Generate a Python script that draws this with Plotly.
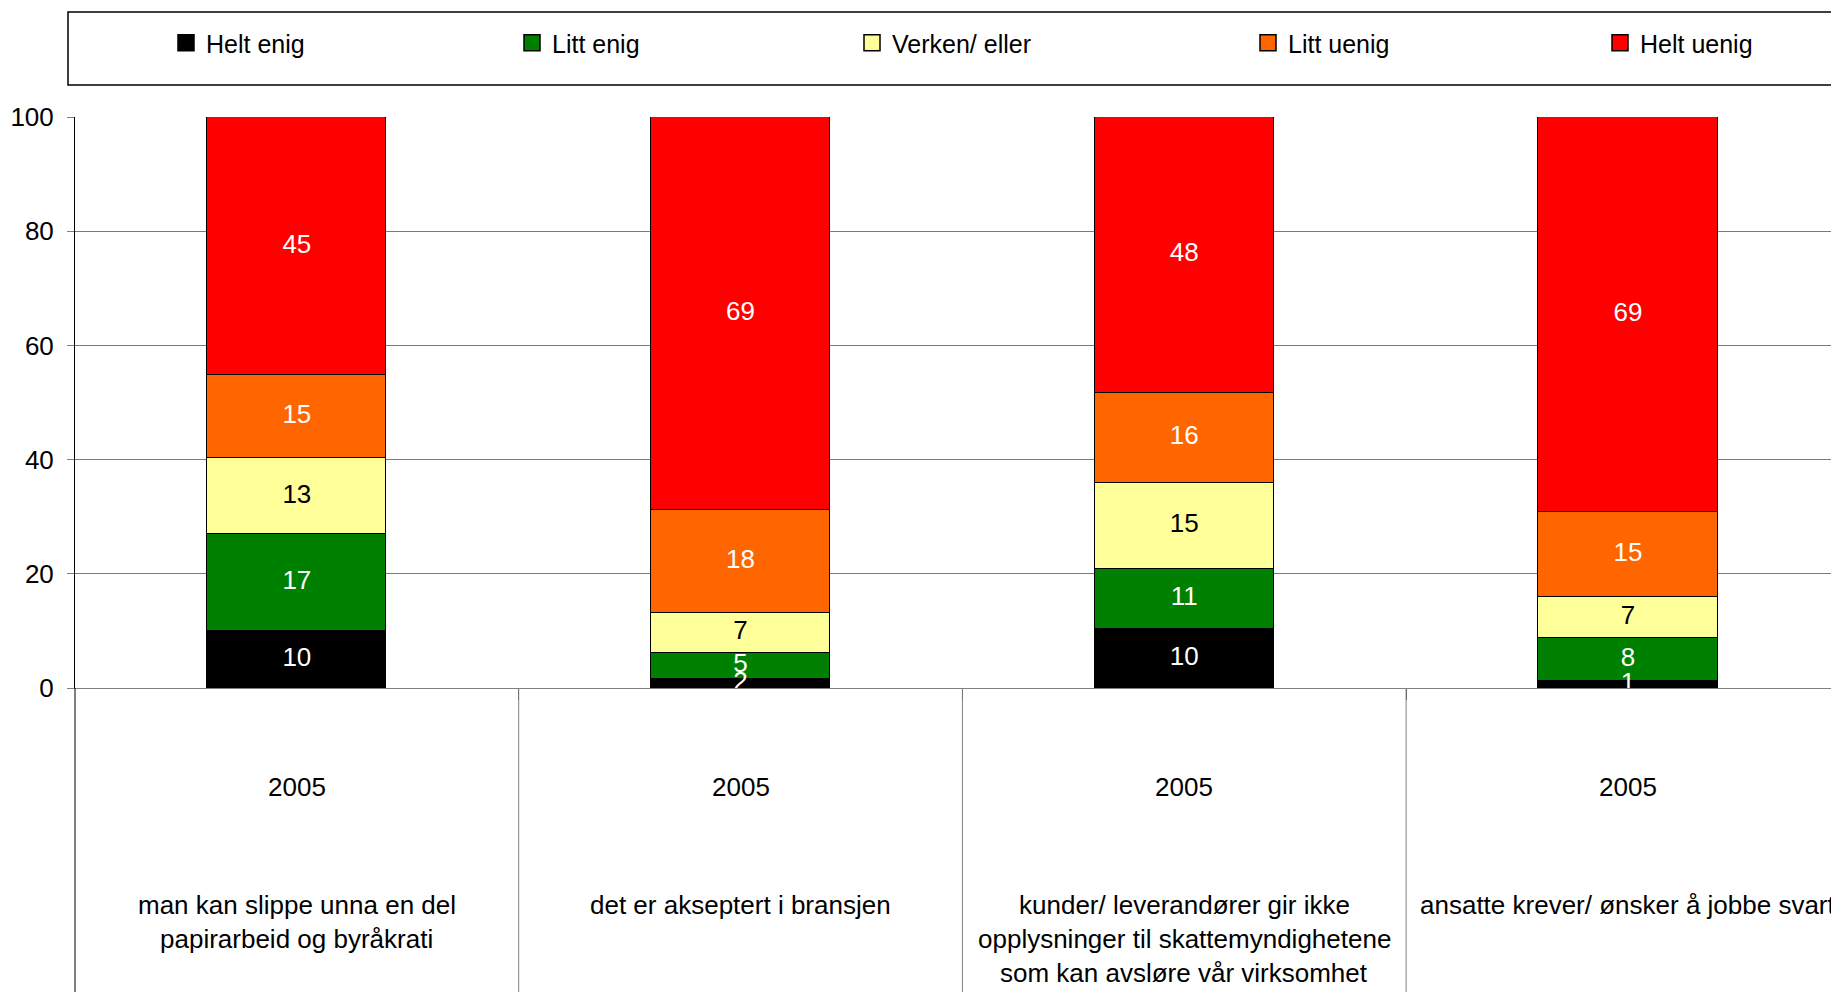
import plotly.graph_objects as go

# ---------------- data ----------------
categories = [
    "man kan slippe unna en del papirarbeid og byråkrati",
    "det er akseptert i bransjen",
    "kunder/ leverandører gir ikke opplysninger til skattemyndighetene som kan avsløre vår virksomhet",
    "ansatte krever/ ønsker å jobbe svart",
]
category_lines = [
    ["man kan slippe unna en del", "papirarbeid og byråkrati"],
    ["det er akseptert i bransjen"],
    ["kunder/ leverandører gir ikke", "opplysninger til skattemyndighetene", "som kan avsløre vår virksomhet"],
    ["ansatte krever/ ønsker å jobbe svart"],
]
year_labels = ["2005", "2005", "2005", "2005"]

series_names = ["Helt enig", "Litt enig", "Verken/ eller", "Litt uenig", "Helt uenig"]
helt_enig = [9.9, 1.6, 10.3, 1.2]
litt_enig = [17.0, 4.6, 10.6, 7.6]
verken_eller = [13.3, 6.9, 15.0, 7.2]
litt_uenig = [14.6, 18.1, 15.8, 14.8]
helt_uenig = [45.2, 68.8, 48.3, 69.2]
series_values = [helt_enig, litt_enig, verken_eller, litt_uenig, helt_uenig]

y_ticks = [0, 20, 40, 60, 80, 100]

# ---------------- styles ----------------
colors = ["#000000", "#008000", "#FFFF99", "#FF6600", "#FF0000"]
text_colors = ["#FFFFFF", "#FFFFFF", "#000000", "#FFFFFF", "#FFFFFF"]
FONT = "Arial, 'Liberation Sans', sans-serif"
FS = 26
FS_LEG = 25

OFF = 8  # default page body margin
W, H = 1839 - OFF, 992 - OFF
L, R, T = 75 - OFF, 0, 117 - OFF
PLOT_BOTTOM = 688 - OFF
B = H - PLOT_BOTTOM
plot_w = W - L - R
plot_h = H - T - B

# legend text start positions (page pixels) and vertical centre
legend_text_px = [206, 552, 892, 1288, 1640]
legend_cy = 43

fig = go.Figure()
x_idx = list(range(len(categories)))

# stacked bars
for i, (name, vals) in enumerate(zip(series_names, series_values)):
    fig.add_trace(go.Bar(
        x=x_idx, y=vals, name=name,
        marker=dict(color=colors[i], line=dict(color="#000000", width=1.5)),
        width=0.404,
        showlegend=False,
        hoverinfo="skip",
    ))

# value labels drawn on top of all bars (centred in each segment)
base = [0.0] * len(categories)
for i, vals in enumerate(series_values):
    mids = [b + v / 2 for b, v in zip(base, vals)]
    fig.add_trace(go.Scatter(
        x=x_idx, y=mids, mode="text",
        text=[f"{v:.0f}" for v in vals],
        textposition="middle center",
        textfont=dict(color=text_colors[i], size=FS, family=FONT),
        cliponaxis=False, showlegend=False, hoverinfo="skip",
    ))
    base = [b + v for b, v in zip(base, vals)]

# legend entries (square swatches)
for i, name in enumerate(series_names):
    fig.add_trace(go.Scatter(
        x=[None], y=[None], mode="markers", name=name,
        marker=dict(symbol="square", size=16, color=colors[i],
                    line=dict(color="#000000", width=1.5)),
        legend="legend" if i == 0 else f"legend{i+1}",
        showlegend=True, hoverinfo="skip",
    ))

legend_layouts = {}
for i, px in enumerate(legend_text_px):
    key = "legend" if i == 0 else f"legend{i+1}"
    legend_layouts[key] = dict(
        x=(px - OFF - 40) / W, xref="container", xanchor="left",
        y=1 - (legend_cy - OFF) / H, yref="container", yanchor="middle",
        orientation="h", bgcolor="rgba(0,0,0,0)", borderwidth=0,
        font=dict(family=FONT, size=FS_LEG, color="#000000"),
    )

shapes = []
# legend frame (page px: x from 68, y 12..85)
shapes.append(dict(type="rect", xref="paper", yref="paper",
                   x0=(68 - OFF - L) / plot_w, x1=1.02,
                   y0=(PLOT_BOTTOM - (85 - OFF)) / plot_h, y1=(PLOT_BOTTOM - (12 - OFF)) / plot_h,
                   line=dict(color="#000000", width=1.5), fillcolor="rgba(0,0,0,0)", layer="above"))
# left axis line continued below zero
bottom = -(B + 5) / plot_h
shapes.append(dict(type="line", xref="paper", yref="paper", x0=0, x1=0, y0=0, y1=bottom,
                   line=dict(color="#000000", width=1)))
# category dividers
for k in range(len(categories) - 1):
    shapes.append(dict(type="line", xref="x", yref="paper", x0=k + 0.5, x1=k + 0.5,
                       y0=0, y1=bottom, line=dict(color="#808080", width=1)))

annotations = []
for k in range(len(categories)):
    annotations.append(dict(x=k, xref="x", y=0, yref="paper", yanchor="middle", yshift=-99,
                            text=year_labels[k], showarrow=False,
                            font=dict(family=FONT, size=FS, color="#000000")))
    for j, line in enumerate(category_lines[k]):
        annotations.append(dict(x=k, xref="x", y=0, yref="paper", yanchor="middle",
                                yshift=-(217 + 34 * j), text=line, showarrow=False,
                                font=dict(family=FONT, size=FS, color="#000000")))

fig.update_layout(
    width=W, height=H, autosize=False,
    margin=dict(l=L, r=R, t=T, b=B, pad=0),
    paper_bgcolor="#FFFFFF", plot_bgcolor="#FFFFFF",
    barmode="stack", bargap=0,
    font=dict(family=FONT, size=FS, color="#000000"),
    showlegend=True,
    shapes=shapes,
    annotations=annotations,
    **legend_layouts,
)
fig.update_xaxes(
    type="linear", range=[-0.5, -0.5 + plot_w / 443.7],
    showgrid=False, zeroline=False,
    showline=True, linecolor="#808080", linewidth=1,
    tickvals=[k + 0.5 for k in range(len(categories) - 1)],
    ticks="outside", ticklen=11, tickcolor="#404040", tickwidth=1,
    showticklabels=False,
)
fig.update_yaxes(
    range=[0, 100], tickvals=y_ticks,
    showgrid=True, gridcolor="#7A7A7A", gridwidth=1,
    zeroline=False,
    showline=True, linecolor="#000000", linewidth=1,
    ticks="outside", ticklen=7, tickcolor="#808080",
    ticklabelstandoff=8,
    tickfont=dict(family=FONT, size=FS, color="#000000"),
)

fig.write_html("out.html")
